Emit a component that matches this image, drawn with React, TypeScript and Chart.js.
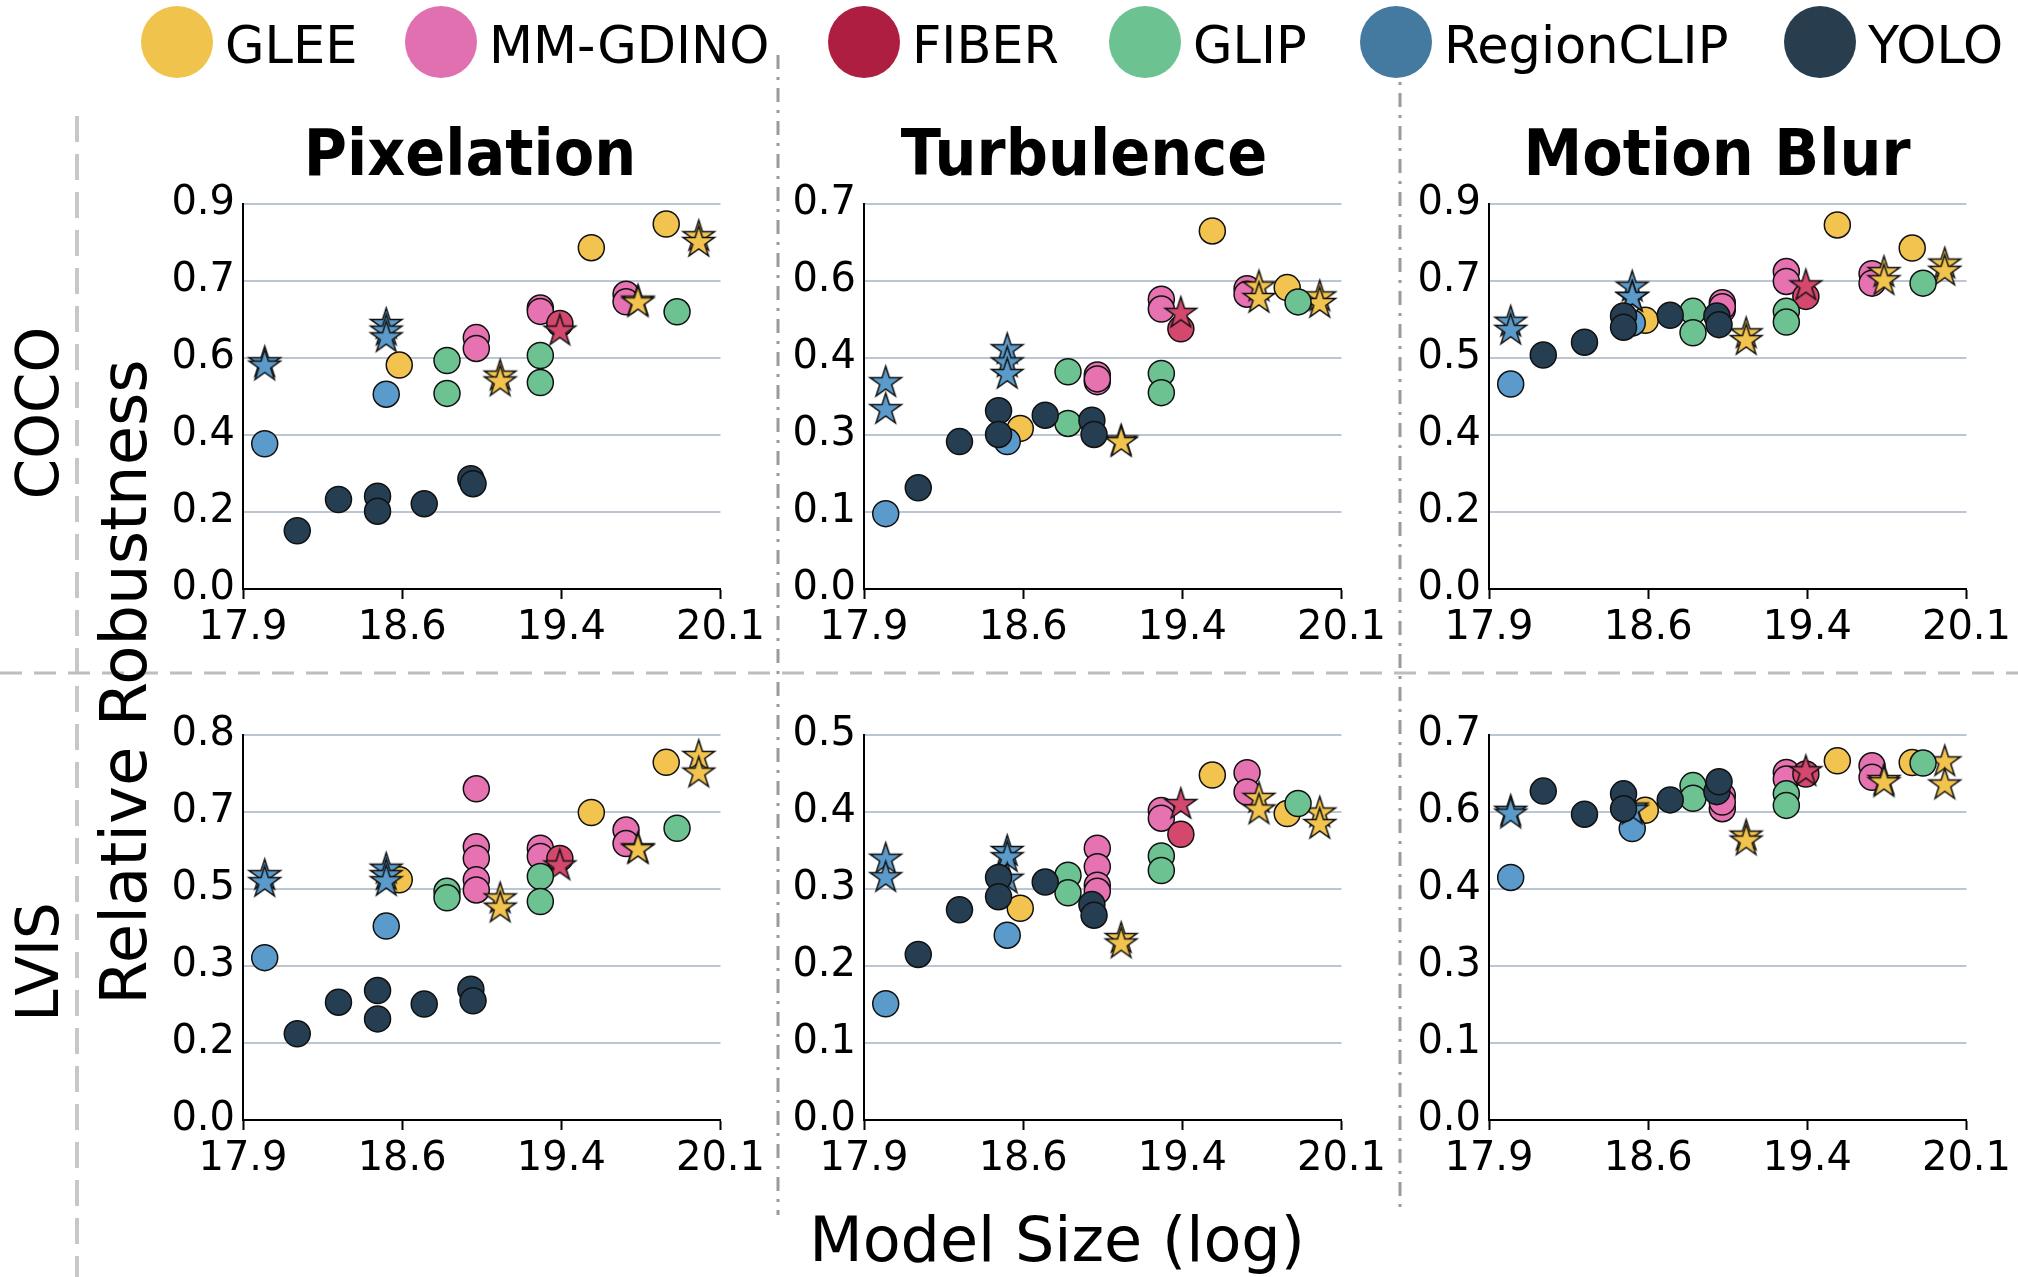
import React, { useEffect, useRef } from "react";
import { Chart, registerables } from "chart.js";

Chart.register(...registerables);

// ---- data -------------------------------------------------------------
// Panels, in order: COCO Pixelation, COCO Turbulence, COCO Motion Blur,
//                   LVIS Pixelation, LVIS Turbulence, LVIS Motion Blur
const PANEL_TITLES = ["Pixelation", "Turbulence", "Motion Blur"];
const ROW_LABELS = ["COCO", "LVIS"];
const Y_MAX = [0.925, 0.7, 0.9, 0.83, 0.5, 0.7];
const Y_TICK_LABELS = [
  ["0.0", "0.2", "0.4", "0.6", "0.7", "0.9"],
  ["0.0", "0.1", "0.3", "0.4", "0.6", "0.7"],
  ["0.0", "0.2", "0.4", "0.5", "0.7", "0.9"],
  ["0.0", "0.2", "0.3", "0.5", "0.7", "0.8"],
  ["0.0", "0.1", "0.2", "0.3", "0.4", "0.5"],
  ["0.0", "0.1", "0.3", "0.4", "0.6", "0.7"],
];
const X_MIN = 17.9;
const X_MAX = 20.1;
const X_TICK_LABELS = ["17.9", "18.6", "19.4", "20.1"];

const FAMILIES = ["GLEE", "MM-GDINO", "FIBER", "GLIP", "RegionCLIP", "YOLO"];
const LEGEND_COLORS = ["#F0C44C", "#E070B0", "#AE1E40", "#6CC391", "#4479A0", "#283D4E"];
const MARKER_COLORS = ["#F2C44F", "#E672B2", "#D4486E", "#6CC391", "#5B9BCB", "#263E51"];

// model size (log) per model, and whether it is drawn as a star
const GLEE_X = [18.62, 19.085, 19.085, 19.505, 19.72, 19.72, 19.85, 20.0, 20.0];
const GLEE_STAR = [0, 1, 1, 0, 1, 1, 0, 1, 1];
const GLEE_Y = [
  [0.538, 0.514, 0.5, 0.82, 0.694, 0.69, 0.877, 0.849, 0.835],
  [0.292, 0.271, 0.268, 0.651, 0.551, 0.53, 0.548, 0.533, 0.521],
  [0.628, 0.599, 0.583, 0.851, 0.742, 0.723, 0.797, 0.762, 0.745],
  [0.518, 0.479, 0.459, 0.663, 0.587, 0.585, 0.771, 0.786, 0.75],
  [0.275, 0.237, 0.23, 0.448, 0.419, 0.404, 0.398, 0.4, 0.385],
  [0.563, 0.518, 0.509, 0.653, 0.619, 0.615, 0.65, 0.653, 0.611],
];

const MMG_X = [18.975, 18.975, 18.975, 18.975, 18.975, 19.27, 19.27, 19.665, 19.665];
const MMG_STAR = [0, 0, 0, 0, 0, 0, 0, 0, 0];
const MMG_Y = [
  [0.604, 0.578, null, null, null, 0.675, 0.667, 0.708, 0.69],
  [0.389, 0.377, 0.382, null, null, 0.527, 0.509, 0.546, 0.536],
  [0.669, 0.653, 0.66, null, null, 0.742, 0.719, 0.737, 0.715],
  [0.714, 0.589, 0.564, 0.518, 0.496, 0.586, 0.568, 0.625, 0.596],
  [0.353, 0.329, 0.305, 0.297, null, 0.402, 0.392, 0.451, 0.426],
  [0.59, 0.566, 0.578, null, null, 0.632, 0.62, 0.644, 0.623],
];

const FIBER_X = [19.36, 19.36];
const FIBER_STAR = [0, 1];
const FIBER_Y = [
  [0.638, 0.622],
  [0.473, 0.503],
  [0.684, 0.711],
  [0.564, 0.55],
  [0.371, 0.411],
  [0.629, 0.635],
];

const GLIP_X = [18.84, 18.84, 19.27, 19.27, 19.9];
const GLIP_STAR = [0, 0, 0, 0, 0];
const GLIP_Y = [
  [0.549, 0.47, 0.561, 0.496, 0.666],
  [0.395, 0.301, 0.392, 0.357, 0.522],
  [0.649, 0.599, 0.649, 0.624, 0.715],
  [0.493, 0.479, 0.525, 0.471, 0.629],
  [0.318, 0.295, 0.343, 0.324, 0.411],
  [0.608, 0.585, 0.593, 0.572, 0.649],
];

const RCLIP_X = [18.0, 18.0, 18.0, 18.56, 18.56, 18.56, 18.56];
const RCLIP_STAR = [0, 1, 1, 0, 1, 1, 1];
const RCLIP_Y = [
  [0.349, 0.546, 0.538, 0.468, 0.638, 0.622, 0.606],
  [0.137, 0.377, 0.328, 0.268, 0.437, 0.413, 0.392],
  [0.479, 0.626, 0.607, 0.622, 0.708, 0.684, 0.684],
  [0.35, 0.529, 0.514, 0.418, 0.543, 0.529, 0.516],
  [0.151, 0.34, 0.316, 0.24, 0.35, 0.342, 0.314],
  [0.441, 0.563, 0.558, 0.53, 0.569, 0.565, null],
];

const YOLO_X = [18.15, 18.34, 18.52, 18.52, 18.735, 18.95, 18.96];
const YOLO_STAR = [0, 0, 0, 0, 0, 0, 0];
const YOLO_Y = [
  [0.14, 0.215, 0.223, 0.187, 0.205, 0.265, 0.253],
  [0.184, 0.268, 0.324, 0.281, 0.316, 0.307, 0.281],
  [0.547, 0.577, 0.638, 0.612, 0.64, 0.638, 0.618],
  [0.186, 0.254, 0.279, 0.218, 0.25, 0.282, 0.257],
  [0.215, 0.273, 0.315, 0.29, 0.309, 0.28, 0.266],
  [0.598, 0.556, 0.593, 0.566, 0.582, 0.597, 0.615],
];

const FAMILY_X = [GLEE_X, MMG_X, FIBER_X, GLIP_X, RCLIP_X, YOLO_X];
const FAMILY_STAR = [GLEE_STAR, MMG_STAR, FIBER_STAR, GLIP_STAR, RCLIP_STAR, YOLO_STAR];
const FAMILY_Y = [GLEE_Y, MMG_Y, FIBER_Y, GLIP_Y, RCLIP_Y, YOLO_Y];
// drawing order: lower value ends up on top
const FAMILY_ORDER = [3, 5, 4, 2, 1, 0];

// ---- layout -----------------------------------------------------------
const FONT = "'DejaVu Sans', sans-serif";
const PLOT_LEFT = [243, 864, 1489];
const PLOT_TOP = [202, 733];
const PLOT_W = 478;
const PLOT_H = 387;
const AXIS_W = 110;
const AXIS_H = 70;
const PAD_TOP = 30;
const PAD_RIGHT = 50;

const LEGEND_CX = [177, 441, 864, 1145, 1396, 1820];
const TITLE_CX = [470, 1084, 1717];

const starCache: Record<string, HTMLCanvasElement> = {};
function starImage(color: string): HTMLCanvasElement {
  if (starCache[color]) return starCache[color];
  const R = 16.5;
  const size = 37;
  const c = document.createElement("canvas");
  c.width = size;
  c.height = size;
  const ctx = c.getContext("2d")!;
  ctx.translate(size / 2, size / 2 + 1);
  ctx.beginPath();
  for (let i = 0; i < 10; i++) {
    const r = i % 2 === 0 ? R : R * 0.382;
    const a = -Math.PI / 2 + (i * Math.PI) / 5;
    const px = r * Math.cos(a);
    const py = r * Math.sin(a);
    if (i === 0) ctx.moveTo(px, py);
    else ctx.lineTo(px, py);
  }
  ctx.closePath();
  ctx.fillStyle = color;
  ctx.fill();
  ctx.lineWidth = 1.5;
  ctx.strokeStyle = "#111";
  ctx.stroke();
  starCache[color] = c;
  return c;
}

function Panel({ index }: { index: number }) {
  const ref = useRef<HTMLCanvasElement>(null);
  const col = index % 3;
  const row = Math.floor(index / 3);
  const width = AXIS_W + PLOT_W + PAD_RIGHT;
  const height = PAD_TOP + PLOT_H + AXIS_H;

  useEffect(() => {
    const yMax = Y_MAX[index];
    const yLabels = Y_TICK_LABELS[index];
    const datasets = FAMILIES.map((name, f) => {
      const color = MARKER_COLORS[f];
      const pts: { x: number; y: number }[] = [];
      const styles: any[] = [];
      FAMILY_X[f].forEach((x, i) => {
        const y = FAMILY_Y[f][index][i];
        if (y === null || y === undefined) return;
        pts.push({ x, y });
        styles.push(FAMILY_STAR[f][i] ? starImage(color) : "circle");
      });
      return {
        label: name,
        data: pts,
        order: FAMILY_ORDER[f],
        backgroundColor: color,
        borderColor: "#111",
        borderWidth: 1.5,
        pointRadius: 13,
        pointHoverRadius: 13,
        pointStyle: styles,
        showLine: false,
      };
    });

    const tickFont = { family: FONT, size: 40 };
    const chart = new Chart(ref.current!, {
      type: "scatter",
      data: { datasets: datasets as any },
      options: {
        animation: false,
        responsive: false,
        devicePixelRatio: 1,
        layout: { padding: { left: 0, top: PAD_TOP, right: PAD_RIGHT, bottom: 0 } },
        plugins: { legend: { display: false }, tooltip: { enabled: false } },
        events: [],
        scales: {
          x: {
            type: "linear",
            min: X_MIN,
            max: X_MAX,
            afterBuildTicks: (s: any) => {
              s.ticks = X_TICK_LABELS.map((_, i) => ({
                value: X_MIN + ((X_MAX - X_MIN) * i) / (X_TICK_LABELS.length - 1),
              }));
            },
            afterFit: (s: any) => {
              s.height = AXIS_H;
            },
            grid: {
              display: true,
              drawOnChartArea: false,
              drawTicks: true,
              tickLength: 10,
              tickWidth: 2,
              tickColor: "#000",
            },
            border: { display: true, color: "#000", width: 2 },
            ticks: {
              font: tickFont,
              color: "#000",
              padding: 6,
              maxRotation: 0,
              autoSkip: false,
              callback: (_v: any, i: number) => X_TICK_LABELS[i],
            },
          },
          y: {
            type: "linear",
            min: 0,
            max: yMax,
            afterBuildTicks: (s: any) => {
              s.ticks = yLabels.map((_, i) => ({ value: (yMax * i) / (yLabels.length - 1) }));
            },
            afterFit: (s: any) => {
              s.width = AXIS_W;
            },
            grid: { color: "#bcc6d2", lineWidth: 2, drawTicks: false },
            border: { display: true, color: "#000", width: 2 },
            ticks: {
              font: tickFont,
              color: "#000",
              padding: 8,
              autoSkip: false,
              callback: (_v: any, i: number) => yLabels[i],
            },
          },
        },
      } as any,
    });
    return () => chart.destroy();
  }, [index]);

  return (
    <canvas
      ref={ref}
      width={width}
      height={height}
      style={{
        position: "absolute",
        left: PLOT_LEFT[col] - AXIS_W,
        top: PLOT_TOP[row] - PAD_TOP,
        width,
        height,
      }}
    />
  );
}

function Text({
  x,
  y,
  size,
  bold,
  rotate,
  align,
  stretch,
  children,
}: {
  x: number;
  y: number;
  size: number;
  bold?: boolean;
  rotate?: boolean;
  align?: "left" | "center";
  stretch?: number;
  children: React.ReactNode;
}) {
  const tx = align === "left" ? "0" : "-50%";
  const extra = (rotate ? " rotate(-90deg)" : "") + (stretch ? ` scaleY(${stretch})` : "");
  return (
    <div
      style={{
        position: "absolute",
        left: x,
        top: y,
        fontFamily: FONT,
        fontSize: size,
        fontWeight: bold ? "bold" : "normal",
        lineHeight: 1,
        whiteSpace: "nowrap",
        color: "#000",
        transform: `translate(${tx}, -50%)${extra}`,
      }}
    >
      {children}
    </div>
  );
}

export default function App() {
  return (
    <div
      style={{
        position: "absolute",
        left: 0,
        top: 0,
        width: 2018,
        height: 1277,
        background: "#fff",
        overflow: "hidden",
      }}
    >
      <svg
        width={2018}
        height={1277}
        style={{ position: "absolute", left: 0, top: 0 }}
      >
        <line x1={77} y1={116} x2={77} y2={1277} stroke="#c8c8c8" strokeWidth={4} strokeDasharray="26 12" />
        <line x1={0} y1={673} x2={2018} y2={673} stroke="#bdbdbd" strokeWidth={3} strokeDasharray="22 12" />
        <line x1={778} y1={55} x2={778} y2={1215} stroke="#9a9a9a" strokeWidth={3} strokeDasharray="14 8 3 8" />
        <line x1={1400} y1={60} x2={1400} y2={1210} stroke="#9a9a9a" strokeWidth={3} strokeDasharray="14 8 3 8" />
      </svg>

      {FAMILIES.map((name, f) => (
        <React.Fragment key={name}>
          <div
            style={{
              position: "absolute",
              left: LEGEND_CX[f] - 36,
              top: 42 - 36,
              width: 72,
              height: 72,
              borderRadius: "50%",
              background: LEGEND_COLORS[f],
            }}
          />
          <Text x={LEGEND_CX[f] + 48} y={45} size={51} align="left">
            {name}
          </Text>
        </React.Fragment>
      ))}

      {PANEL_TITLES.map((t, i) => (
        <Text key={t} x={TITLE_CX[i]} y={152} size={59} bold stretch={1.1}>
          {t}
        </Text>
      ))}

      <Text x={38} y={413} size={58} rotate>
        {ROW_LABELS[0]}
      </Text>
      <Text x={38} y={962} size={58} rotate>
        {ROW_LABELS[1]}
      </Text>
      <Text x={124} y={682} size={64} rotate>
        Relative Robustness
      </Text>
      <Text x={1057} y={1240} size={62}>
        Model Size (log)
      </Text>

      {[0, 1, 2, 3, 4, 5].map((i) => (
        <Panel key={i} index={i} />
      ))}
    </div>
  );
}
